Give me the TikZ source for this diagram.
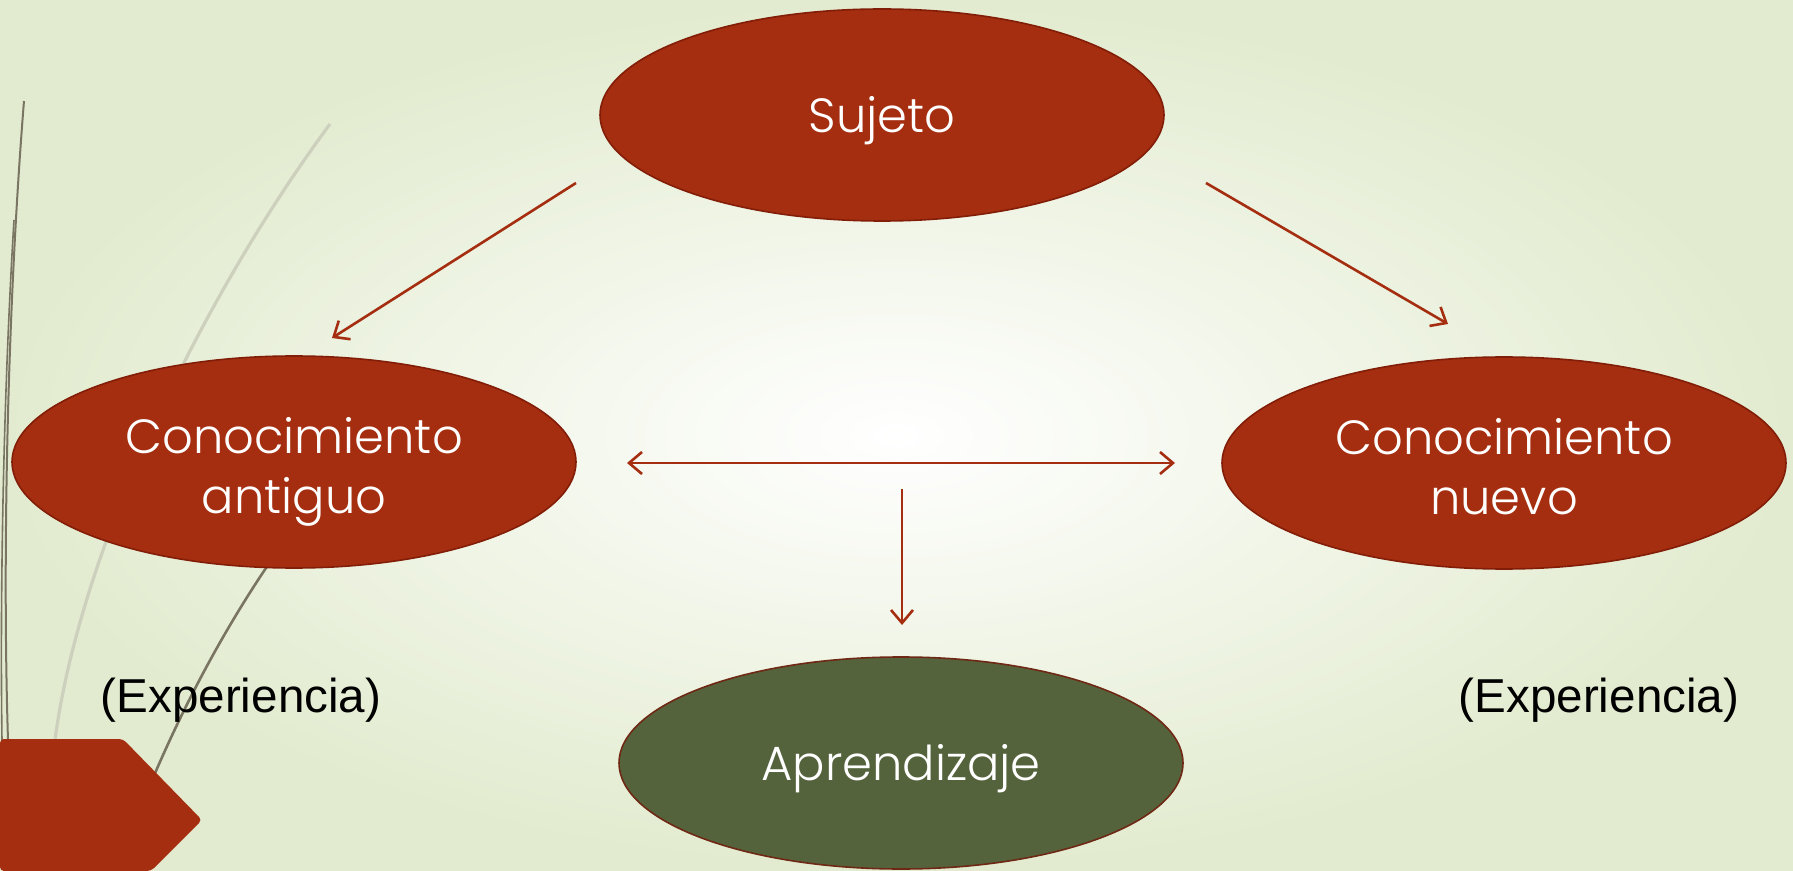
\documentclass[tikz,border=0pt]{standalone}
\usepackage{fontspec}
\setmainfont{Liberation Sans}
\newfontfamily\gothic{Poppins Light}
\usetikzlibrary{shapes.geometric,arrows.meta}
\definecolor{brick}{RGB}{165,45,16}
\definecolor{brickdark}{RGB}{130,30,8}
\definecolor{olive}{RGB}{85,99,61}
\definecolor{olivedark}{RGB}{110,40,20}
\definecolor{bgouter}{RGB}{226,235,207}
\definecolor{lightline}{RGB}{205,208,188}
\definecolor{darkline}{RGB}{122,116,98}
\newcommand{\lowtext}[2]{\raisebox{-#1}[\height][\depth]{#2}}
\newcommand{\twolines}[2]{\lowtext{4.5pt}{\begin{tabular}{@{}c@{}}#1\\#2\end{tabular}}}
\tikzset{
  oval/.style={ellipse, draw=brickdark, line width=0.8pt, fill=brick,
    minimum width=282pt, minimum height=106pt, inner sep=0pt,
    text=white, font=\gothic\fontsize{24}{30}\selectfont, align=center},
  greenoval/.style={oval, fill=olive, draw=olivedark},
  conn/.style={draw=brick, line width=1.3pt, -{Straight Barb[length=6.5pt,width=11pt,line width=1.3pt]}},
  biconn/.style={conn, {Straight Barb[length=6.5pt,width=11pt,line width=1.3pt]}-{Straight Barb[length=6.5pt,width=11pt,line width=1.3pt]}},
  note/.style={font=\fontsize{23.8}{28}\selectfont, text=black, inner sep=0pt}
}
\begin{document}
\begin{tikzpicture}[x=0.5pt,y=-0.5pt]
\useasboundingbox (0,0) rectangle (1793,871);
\shade[inner color=white, outer color=bgouter] (0,0) rectangle (1793,871);
% decorative lines
\draw[lightline, line width=1.6pt] (330,124) .. controls (200,300) and (80,550) .. (55,740);
\draw[darkline, line width=1pt] (24,101) .. controls (8,300) and (2,550) .. (8,740);
\draw[darkline, line width=0.8pt] (14,220) .. controls (3,400) and (0,600) .. (2,740);
\draw[darkline, line width=1.3pt] (300,520) .. controls (240,600) and (190,690) .. (150,785);
\fill[brick, rounded corners=2pt] (0,739) -- (123,739) -- (202,820) -- (151,871) -- (0,871) -- cycle;
% nodes
\node[oval] (sujeto) at (882,115) {\lowtext{2.9pt}{Sujeto}};
\node[oval] (antiguo) at (294,462) {\twolines{Conocimiento}{antiguo}};
\node[oval] (nuevo) at (1504,463) {\twolines{Conocimiento}{nuevo}};
\node[greenoval] (aprend) at (901,763) {\lowtext{2.9pt}{Aprendizaje}};
\node[note] (expl) at (241,700) {(Experiencia)};
\node[note] (expr) at (1599,700) {(Experiencia)};
% connector ends
\coordinate (l1) at (576,183);
\coordinate (l2) at (332,338);
\coordinate (r1) at (1206,183);
\coordinate (r2) at (1448,324);
\coordinate (h1) at (627,463);
\coordinate (h2) at (1175,463);
\coordinate (v1) at (902,489);
\coordinate (v2) at (902,625);
\draw[conn] (l1) -- (l2);
\draw[conn] (r1) -- (r2);
\draw[biconn] (h1) -- (h2);
\draw[conn] (v1) -- (v2);
\end{tikzpicture}
\end{document}
